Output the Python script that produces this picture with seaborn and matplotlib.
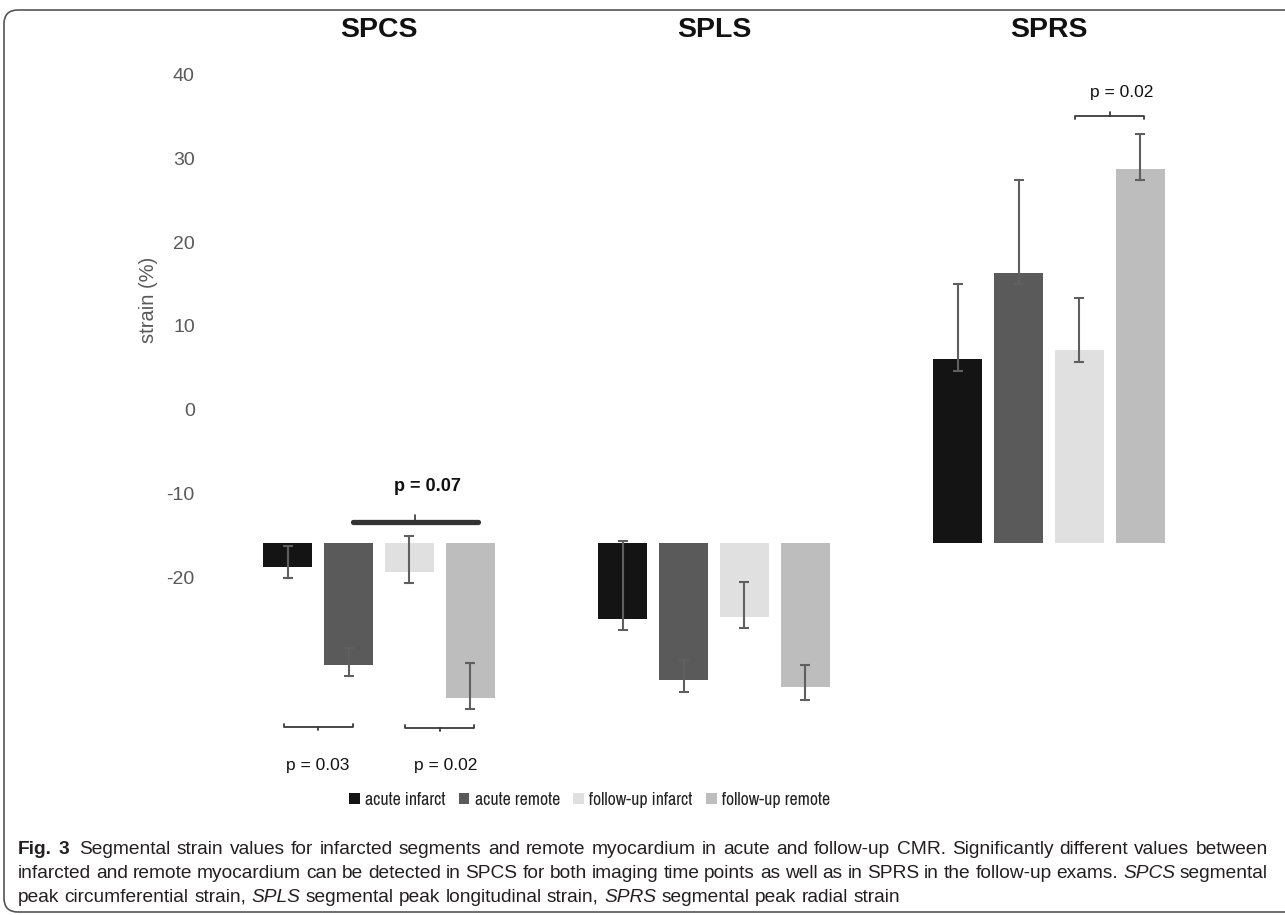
import numpy as np
import pandas as pd
import matplotlib
matplotlib.use('Agg')
import matplotlib.pyplot as plt
import matplotlib.transforms as mtransforms
from matplotlib.patches import FancyBboxPatch, Patch
from matplotlib import font_manager
import seaborn as sns

# ── data ──────────────────────────────────────────────────────────────────────

measures = ['SPCS', 'SPLS', 'SPRS']
groups = ['acute infarct', 'acute remote', 'follow-up infarct', 'follow-up remote']
colors = ['#141414', '#5a5a5a', '#e0e0e0', '#bdbdbd']

# bar heights (strain %) per group, in measure order
acute_infarct    = [-2.9, -9.1, 22.0]
acute_remote     = [-14.6, -16.4, 32.2]
followup_infarct = [-3.5, -8.8, 23.0]
followup_remote  = [-18.5, -17.2, 44.6]

# lower / upper ends of the error bars
acute_infarct_lo    = [-4.2, -10.4, 20.5]
acute_infarct_hi    = [-0.4, 0.2, 30.9]
acute_remote_lo     = [-15.9, -17.8, 30.9]
acute_remote_hi     = [-12.5, -14.0, 43.3]
followup_infarct_lo = [-4.8, -10.1, 21.6]
followup_infarct_hi = [0.8, -4.7, 29.2]
followup_remote_lo  = [-19.8, -18.7, 43.3]
followup_remote_hi  = [-14.3, -14.6, 48.8]

values = [acute_infarct, acute_remote, followup_infarct, followup_remote]
lows   = [acute_infarct_lo, acute_remote_lo, followup_infarct_lo, followup_remote_lo]
highs  = [acute_infarct_hi, acute_remote_hi, followup_infarct_hi, followup_remote_hi]

# the printed strain scale in the figure sits this far below the bar baseline
scale_shift = 15.9
scale_ticks = [40, 30, 20, 10, 0, -10, -20]

# (measure, group a, group b, bracket y, label, bold, label x nudge)
sig_tests = [
    ('SPCS', 'acute remote', 'follow-up remote', 2.5, 'p = 0.07', True, 0.055),
    ('SPCS', 'acute infarct', 'acute remote', -22.0, 'p = 0.03', False, 0.0),
    ('SPCS', 'follow-up infarct', 'follow-up remote', -22.1, 'p = 0.02', False, 0.018),
    ('SPRS', 'follow-up infarct', 'follow-up remote', 51.0, 'p = 0.02', False, 0.036),
]

caption_lines = [
    [('Fig. 3', 'bold', 'normal'),
     ('Segmental strain values for infarcted segments and remote myocardium in acute and '
      'follow-up CMR. Significantly different values between', 'normal', 'normal')],
    [('infarcted and remote myocardium can be detected in SPCS for both imaging time points '
      'as well as in SPRS in the follow-up exams.', 'normal', 'normal'),
     ('SPCS', 'normal', 'italic'), ('segmental', 'normal', 'normal')],
    [('peak circumferential strain,', 'normal', 'normal'), ('SPLS', 'normal', 'italic'),
     ('segmental peak longitudinal strain,', 'normal', 'normal'), ('SPRS', 'normal', 'italic'),
     ('segmental peak radial strain', 'normal', 'normal')],
]

# ── style ─────────────────────────────────────────────────────────────────────

sns.set_style('white')
plt.rcParams['font.family'] = ['Liberation Sans', 'DejaVu Sans']
plt.rcParams['axes.unicode_minus'] = False

# look for a narrow sans face for the legend
narrow = None
for f in font_manager.fontManager.ttflist:
    if ('Narrow' in f.name or 'Condensed' in f.name) and 'Mono' not in f.name:
        narrow = f.name
        break

W, H = 1285, 915
fig = plt.figure(figsize=(W / 100, H / 100), dpi=100)
ax = fig.add_axes([211.5 / W, 1 - 790 / H, 1005 / W, 730 / H])

df = pd.DataFrame([(m, g, values[i][j]) for i, g in enumerate(groups)
                   for j, m in enumerate(measures)], columns=['measure', 'group', 'strain'])

sns.barplot(data=df, x='measure', y='strain', hue='group', order=measures,
            hue_order=groups, palette=colors, width=0.728, gap=0.2,
            errorbar=None, legend=False, ax=ax, saturation=1, edgecolor='none')

bar_containers = list(ax.containers)
centers = {}
for i, cont in enumerate(bar_containers):
    for j, bar in enumerate(cont.patches):
        x = bar.get_x() + bar.get_width() / 2
        centers[(measures[j], groups[i])] = x
        v = values[i][j]
        ax.errorbar(x, v, yerr=[[v - lows[i][j]], [highs[i][j] - v]], fmt='none',
                    ecolor='#5f5f5f', elinewidth=1.5, capsize=3.5, capthick=1.5, zorder=3)

ax.set_xlim(-0.5, 2.5)
ax.set_ylim(-29.47, 57.64)
ax.set_xlabel(''); ax.set_ylabel('')
ax.set_xticks([]); ax.set_yticks([])
sns.despine(ax=ax, left=True, bottom=True)

# printed strain scale
ax_scale = ax.twinx()
lo_lim, hi_lim = ax.get_ylim()
ax_scale.set_ylim(lo_lim - scale_shift, hi_lim - scale_shift)
ax_scale.yaxis.tick_left()
ax_scale.set_yticks(scale_ticks)
ax_scale.tick_params(axis='y', length=0, pad=12, labelsize=14, labelcolor='#595959')
sns.despine(ax=ax_scale, left=True, bottom=True, right=True)

fig.text(148 / W, 1 - 300 / H, 'strain (%)', rotation=90, ha='center', va='center',
         fontsize=14.5, color='#595959')

# panel titles
title_tr = mtransforms.blended_transform_factory(ax.transData, ax.transAxes)
for j, m in enumerate(measures):
    ax.text(j, 1 + 30 / 730, m, transform=title_tr, ha='center', va='center',
            fontsize=20.5, fontweight='bold', color='#111111')

# significance brackets
for m, ga, gb, y, label, bold, dx in sig_tests:
    x0, x1 = centers[(m, ga)] - 0.012, centers[(m, gb)] + 0.012
    xm = (x0 + x1) / 2
    if bold:
        ax.plot([x0 + 0.025, x1 + 0.01], [y, y], color='#333333', lw=3.8,
                solid_capstyle='round', zorder=4)
        ax.plot([xm + 0.017, xm + 0.017], [y, y + 0.9], color='#333333', lw=1.2, zorder=4)
        ax.text(xm + dx, y + 4.2, label, ha='center', va='center', fontsize=13,
                fontweight='bold', color='#111111')
    elif y < 0:
        ax.plot([x0, x0, x1, x1], [y + 0.4, y, y, y + 0.4], color='#3a3a3a', lw=1.3, zorder=4)
        ax.plot([xm, xm], [y, y - 0.35], color='#3a3a3a', lw=1.3, zorder=4)
        ax.text(xm + dx, y - 4.5, label, ha='center', va='center', fontsize=12.5,
                color='#111111')
    else:
        ax.plot([x0, x0, x1, x1], [y - 0.4, y, y, y - 0.4], color='#3a3a3a', lw=1.3, zorder=4)
        ax.plot([xm, xm], [y, y + 0.45], color='#3a3a3a', lw=1.3, zorder=4)
        ax.text(xm + dx, y + 2.8, label, ha='center', va='center', fontsize=12.5,
                color='#111111')

# legend
handles = [Patch(facecolor=c, edgecolor='none', label=g) for g, c in zip(groups, colors)]
if narrow:
    leg_prop = {'family': narrow, 'size': 12.8}
else:
    leg_prop = {'family': 'Liberation Sans', 'size': 10.2}
fig.legend(handles=handles, loc='center left', bbox_to_anchor=(349 / W, 1 - 800 / H),
           ncol=4, frameon=False, handlelength=0.6, handleheight=0.6, handletextpad=0.3,
           columnspacing=0.75, borderaxespad=0, borderpad=0, prop=leg_prop,
           labelcolor='#222222')

# frame around figure + caption
frame = FancyBboxPatch((4, 3), 1320, 902, boxstyle='round,pad=0,rounding_size=14',
                       transform=mtransforms.IdentityTransform(), fill=False,
                       edgecolor='#555555', lw=1.2, clip_on=False)
fig.add_artist(frame)

# caption, sized so the first line fills the column, then justified
renderer = fig.canvas.get_renderer()
x_left, x_right = 18, 1268
cap_kw = dict(family='Liberation Sans', color='#231f20')
first = ' '.join(text for text, _, _ in caption_lines[0])
probe = fig.text(0, 0, first, fontsize=10, **cap_kw)
cap_size = 10 * (x_right - x_left - 12) / probe.get_window_extent(renderer).width
probe.remove()
cap_size = max(11.0, min(cap_size, 14.0))

baselines = [854, 878, 902]
for li, runs in enumerate(caption_lines):
    words = [(w, wt, st) for text, wt, st in runs for w in text.split()]
    arts = [fig.text(0, 1 - baselines[li] / H, w, fontsize=cap_size, fontweight=wt,
                     fontstyle=st, va='baseline', ha='left', **cap_kw)
            for w, wt, st in words]
    widths = [a.get_window_extent(renderer).width for a in arts]
    natural = cap_size * 100 / 72 * 0.278
    extra = natural * 0.8 if li == 0 else 0
    if li < len(caption_lines) - 1:
        gap = (x_right - x_left - sum(widths) - extra) / (len(arts) - 1)
    else:
        gap = natural
    x = x_left
    for k, (a, w) in enumerate(zip(arts, widths)):
        a.set_x(x / W)
        x += w + gap + (extra if (li == 0 and k == 1) else 0)

fig.savefig('out.png', dpi=100)
